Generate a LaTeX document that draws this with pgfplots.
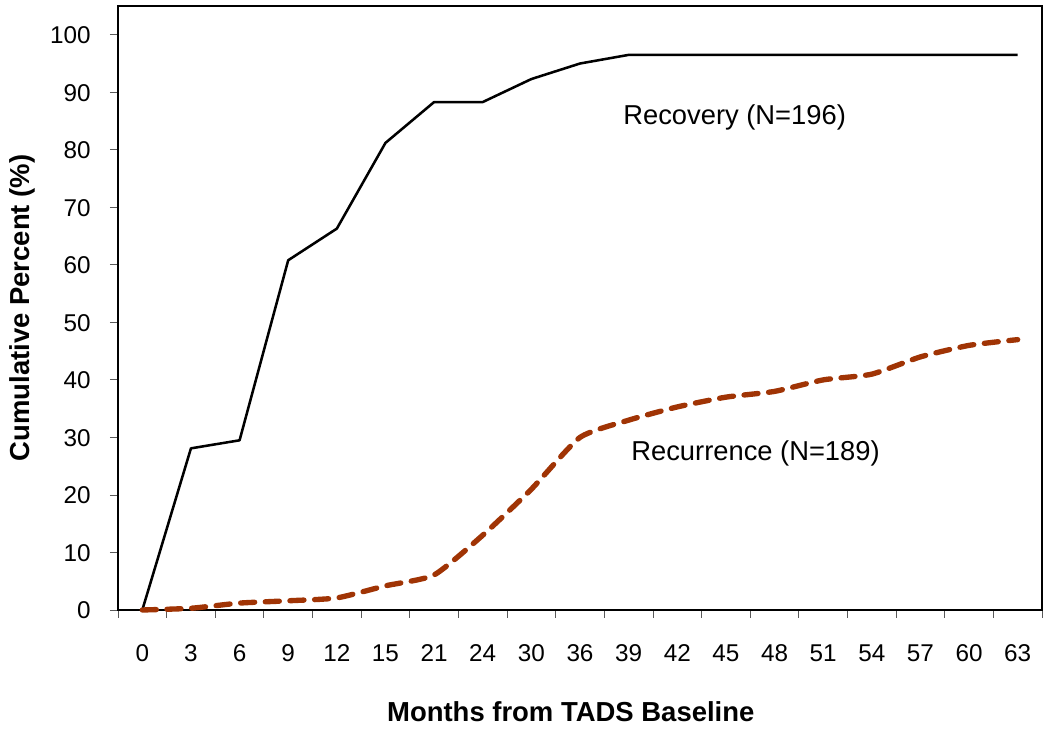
\documentclass[border=0pt]{standalone}
\usepackage{fontspec}
\setmainfont{Liberation Sans}
\usepackage{pgfplots}
\pgfplotsset{compat=1.18}
\definecolor{rust}{RGB}{160,52,5}

\begin{document}
\begin{tikzpicture}[x=1pt,y=1pt]
\begin{axis}[
  at={(0,0)}, anchor=south west,
  scale only axis, width=693pt, height=453pt,
  xmin=-0.5, xmax=18.5, ymin=0, ymax=105,
  axis line style={line width=1.6pt},
  xtick={0,...,18},
  xticklabels={0,3,6,9,12,15,21,24,30,36,39,42,45,48,51,54,57,60,63},
  minor xtick={-0.5,0.5,...,18.5},
  ytick={0,10,...,100},
  tick align=outside, xtick pos=bottom, ytick pos=left,
  major x tick style={draw=none},
  minor x tick style={line width=0.6pt, gray!70!black},
  major y tick style={line width=0.6pt, gray!70!black},
  major tick length=6pt, minor tick length=6pt,
  /pgf/number format/assume math mode=true,
  tick label style={font=\fontsize{18.2}{21}\selectfont, text height=13.2pt, text depth=0pt},
  xticklabel style={yshift=-16pt},
  yticklabel style={xshift=-11pt},
  xlabel={\bfseries Months from TADS Baseline},
  ylabel={\bfseries Cumulative Percent (\%)},
  xlabel style={at={(axis description cs:0.49,-0.169)}, anchor=center, font=\fontsize{20.6}{24}\selectfont},
  ylabel style={at={(axis description cs:-0.104,0.5)}, anchor=center, rotate=0, font=\fontsize{20.6}{24}\selectfont},
  clip=false,
]
% Recovery
\addplot[black, line width=1.9pt, line join=round] coordinates {
  (0,0) (1,28.1) (2,29.5) (3,60.8) (4,66.3) (5,81.2) (6,88.3) (7,88.3)
  (8,92.3) (9,95.0) (10,96.5) (11,96.5) (12,96.5) (13,96.5) (14,96.5)
  (15,96.5) (16,96.5) (17,96.5) (18,96.5)
};
% Recurrence
\addplot[rust, line width=4pt, line cap=round, smooth, tension=0.35,
  dash pattern=on 10.5pt off 8pt] coordinates {
  (0,0) (1,0.3) (2,1.2) (3,1.6) (4,2.1) (5,4.2) (6,6.1) (7,13) (8,21)
  (9,30) (10,33) (11,35.3) (12,37) (13,38) (14,40) (15,41) (16,44)
  (17,46) (18,47)
};
\node[font=\fontsize{20.5}{24}\selectfont] at (axis cs:12.18,85.6) {Recovery (N=196)};
\node[font=\fontsize{20.5}{24}\selectfont] at (axis cs:12.61,27.3) {Recurrence (N=189)};
\end{axis}
\pgfresetboundingbox
\path (-88.5pt,-90pt) rectangle (699pt,457.5pt);
\end{tikzpicture}
\end{document}
